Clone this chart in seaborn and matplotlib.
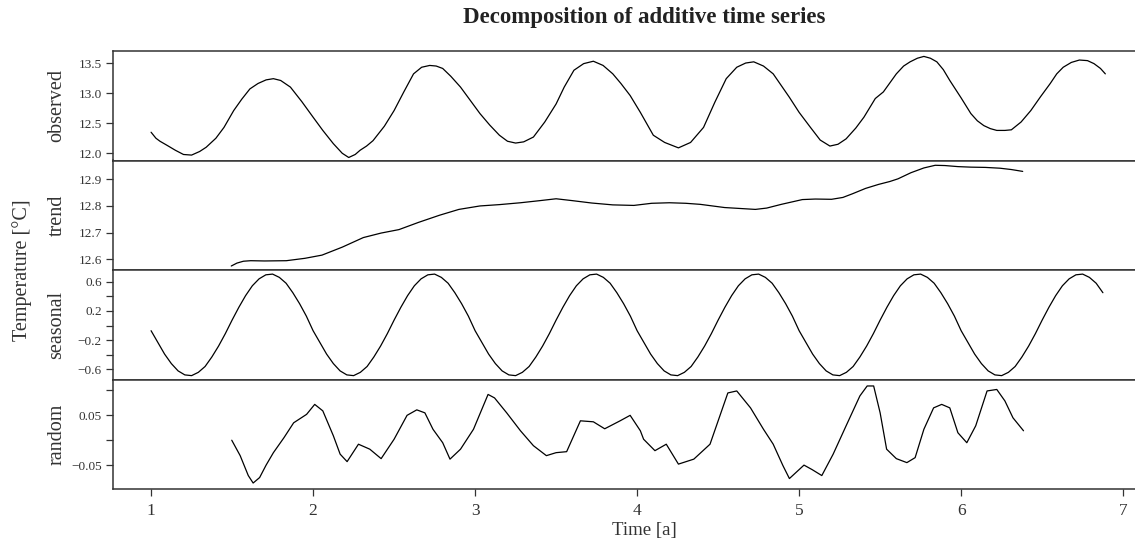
import numpy as np
import pandas as pd
import matplotlib
matplotlib.use("Agg")
import matplotlib.pyplot as plt
import seaborn as sns
from matplotlib.ticker import FixedLocator, FuncFormatter

## values (time in years)
obs_t = [1.00, 1.03, 1.055, 1.10, 1.15, 1.20, 1.25, 1.30, 1.34, 1.40, 1.45, 1.51, 1.56, 1.61, 1.66, 1.71,
         1.755, 1.80, 1.86, 1.93, 2.00, 2.06, 2.125, 2.18, 2.22, 2.26, 2.29, 2.33, 2.37, 2.44, 2.50, 2.56,
         2.62, 2.67, 2.72, 2.76, 2.80, 2.85, 2.91, 2.97, 3.03, 3.09, 3.15, 3.20, 3.25, 3.30, 3.36, 3.43,
         3.50, 3.55, 3.61, 3.67, 3.73, 3.79, 3.85, 3.90, 3.957, 4.02, 4.10, 4.17, 4.255, 4.33, 4.41, 4.48,
         4.55, 4.615, 4.67, 4.72, 4.78, 4.84, 4.94, 5.00, 5.07, 5.13, 5.19, 5.24, 5.29, 5.35, 5.40, 5.47,
         5.52, 5.56, 5.60, 5.645, 5.685, 5.73, 5.77, 5.81, 5.85, 5.89, 5.93, 6.00, 6.06, 6.10, 6.14, 6.18,
         6.22, 6.27, 6.31, 6.37, 6.43, 6.49, 6.55, 6.59, 6.63, 6.68, 6.73, 6.78, 6.82, 6.86, 6.89]
obs_v = [12.35, 12.25, 12.20, 12.13, 12.05, 11.98, 11.97, 12.03, 12.10, 12.25, 12.43, 12.71, 12.90, 13.07, 13.16, 13.22,
         13.24, 13.21, 13.10, 12.86, 12.60, 12.38, 12.16, 12.00, 11.93, 11.98, 12.05, 12.12, 12.21, 12.45, 12.71, 13.02,
         13.32, 13.43, 13.46, 13.45, 13.41, 13.28, 13.10, 12.88, 12.66, 12.47, 12.30, 12.20, 12.17, 12.19, 12.27, 12.52,
         12.82, 13.10, 13.38, 13.49, 13.53, 13.46, 13.32, 13.16, 12.96, 12.68, 12.30, 12.18, 12.09, 12.18, 12.43, 12.85,
         13.24, 13.43, 13.50, 13.52, 13.45, 13.32, 12.93, 12.68, 12.43, 12.22, 12.12, 12.15, 12.24, 12.42, 12.60, 12.91,
         13.02, 13.17, 13.32, 13.45, 13.52, 13.58, 13.61, 13.58, 13.52, 13.39, 13.21, 12.92, 12.66, 12.54, 12.46, 12.41,
         12.38, 12.38, 12.39, 12.52, 12.71, 12.94, 13.16, 13.32, 13.43, 13.51, 13.55, 13.54, 13.49, 13.41, 13.32]

trend_t = [1.495, 1.53, 1.57, 1.615, 1.70, 1.835, 1.95, 2.055, 2.18, 2.31, 2.42, 2.53, 2.65, 2.78, 2.90, 3.03,
           3.15, 3.28, 3.40, 3.50, 3.60, 3.72, 3.85, 3.98, 4.09, 4.20, 4.30, 4.39, 4.54, 4.73, 4.80, 4.89,
           5.02, 5.10, 5.20, 5.27, 5.33, 5.41, 5.49, 5.56, 5.61, 5.69, 5.77, 5.84, 5.90, 5.98, 6.06, 6.15,
           6.24, 6.31, 6.38]
trend_v = [12.574, 12.585, 12.592, 12.594, 12.593, 12.594, 12.603, 12.615, 12.645, 12.681, 12.698, 12.711, 12.738,
           12.765, 12.787, 12.800, 12.805, 12.812, 12.820, 12.827, 12.820, 12.811, 12.804, 12.802, 12.810, 12.812,
           12.810, 12.806, 12.794, 12.787, 12.792, 12.806, 12.824, 12.826, 12.825, 12.832, 12.846, 12.866, 12.881,
           12.892, 12.902, 12.925, 12.943, 12.953, 12.952, 12.948, 12.946, 12.945, 12.942, 12.937, 12.930]

# seasonal figure for one year, half-month steps, repeated every year
season_fig = [-0.07, -0.23, -0.39, -0.52, -0.62, -0.675, -0.685, -0.64, -0.56, -0.43, -0.28, -0.11,
              0.075, 0.25, 0.41, 0.545, 0.64, 0.695, 0.705, 0.66, 0.58, 0.45, 0.30, 0.13]
n_season = 142

rand_t = [1.498, 1.55, 1.60, 1.63, 1.67, 1.71, 1.755, 1.82, 1.88, 1.96, 2.01, 2.06, 2.125, 2.167, 2.21, 2.28,
          2.35, 2.42, 2.50, 2.58, 2.64, 2.69, 2.74, 2.80, 2.845, 2.91, 2.99, 3.08, 3.12, 3.195, 3.28, 3.36,
          3.44, 3.50, 3.565, 3.65, 3.73, 3.80, 3.895, 3.957, 4.02, 4.04, 4.11, 4.18, 4.255, 4.35, 4.45, 4.56,
          4.615, 4.70, 4.78, 4.84, 4.90, 4.94, 5.03, 5.08, 5.14, 5.21, 5.29, 5.375, 5.42, 5.46, 5.50, 5.54,
          5.60, 5.665, 5.716, 5.77, 5.83, 5.88, 5.93, 5.98, 6.035, 6.09, 6.16, 6.22, 6.27, 6.32, 6.385]
rand_v = [0.000, -0.031, -0.071, -0.086, -0.075, -0.050, -0.025, 0.005, 0.035, 0.052, 0.072, 0.059, 0.009, -0.028,
          -0.043, -0.008, -0.018, -0.037, 0.002, 0.050, 0.061, 0.055, 0.022, -0.005, -0.038, -0.018, 0.022, 0.092,
          0.085, 0.055, 0.019, -0.011, -0.031, -0.025, -0.023, 0.039, 0.037, 0.023, 0.039, 0.050, 0.019, 0.002,
          -0.021, -0.008, -0.048, -0.038, -0.008, 0.095, 0.099, 0.065, 0.022, -0.008, -0.051, -0.077, -0.050,
          -0.059, -0.071, -0.028, 0.029, 0.089, 0.109, 0.109, 0.055, -0.018, -0.037, -0.045, -0.035, 0.022, 0.065,
          0.072, 0.065, 0.015, -0.005, 0.029, 0.099, 0.102, 0.079, 0.045, 0.019]

season_t = 1 + np.arange(n_season) / 24
season_v = np.tile(season_fig, 6)[:n_season]

sns.set_theme(style="ticks")
plt.rcParams['font.family'] = ['Liberation Serif', 'DejaVu Serif']
plt.rcParams['axes.unicode_minus'] = True

W, H = 1135, 544
fig, axes = plt.subplots(4, 1, figsize=(W / 100, H / 100), dpi=100, sharex=True)
fig.subplots_adjust(left=113 / W, right=1175 / W, top=1 - 51 / H, bottom=1 - 489 / H, hspace=0)

panels = [
    ("observed", obs_t, obs_v, (11.88, 13.70), [12.0, 12.5, 13.0, 13.5], [12.0, 12.5, 13.0, 13.5], "{:.1f}"),
    ("trend", trend_t, trend_v, (12.559, 12.971), [12.6, 12.7, 12.8, 12.9], [12.6, 12.7, 12.8, 12.9], "{:.1f}"),
    ("seasonal", season_t, season_v, (-0.738, 0.761), [-0.6, -0.4, -0.2, 0.0, 0.2, 0.4, 0.6], [-0.6, -0.2, 0.2, 0.6], "{:.1f}"),
    ("random", rand_t, rand_v, (-0.098, 0.122), [-0.05, 0.0, 0.05, 0.10], [-0.05, 0.05], "{:.2f}"),
]

for ax, (name, t, v, ylim, ticks, labelled, fmt) in zip(axes, panels):
    df = pd.DataFrame({"t": t, "v": v})
    sns.lineplot(data=df, x="t", y="v", ax=ax, color="black", linewidth=0.9, estimator=None, sort=False)
    ax.set_xlim(0.765, 7.32)
    ax.set_ylim(*ylim)
    ax.yaxis.set_major_locator(FixedLocator(ticks))

    def f(val, pos, lab=labelled, fmt=fmt):
        for l in lab:
            if abs(val - l) < 1e-9:
                return fmt.format(val).replace("-", "\u2212")
        return ""
    ax.yaxis.set_major_formatter(FuncFormatter(f))
    ax.tick_params(axis="y", labelsize=9.5, length=5, width=0.9, pad=3, colors="#333333", labelcolor="#333333")
    ax.tick_params(axis="x", labelsize=12.5, length=5, width=0.9, pad=5, colors="#333333", labelcolor="#333333")
    ax.set_xlabel("")
    ax.set_ylabel("")
    for s in ax.spines.values():
        s.set_color("#333333")
        s.set_linewidth(1.1)
    box = ax.get_position()
    fig.text(57 / W, (box.y0 + box.y1) / 2, name, rotation=90, ha="center", va="center",
             fontsize=14.5, color="#333333")

axes[-1].set_xticks([1, 2, 3, 4, 5, 6, 7])
for ax in axes[:-1]:
    ax.tick_params(axis="x", bottom=False, labelbottom=False)

fig.text(644 / W, 1 - 18 / H, "Decomposition of additive time series", ha="center", va="center",
         fontsize=16.5, fontweight="bold", color="#222222")
fig.text(22 / W, 1 - 270 / H, "Temperature [°C]", rotation=90, ha="center", va="center",
         fontsize=14.5, color="#333333")
fig.text(644 / W, 1 - 530 / H, "Time [a]", ha="center", va="center", fontsize=13.5, color="#333333")

fig.savefig("out.png", dpi=100)
